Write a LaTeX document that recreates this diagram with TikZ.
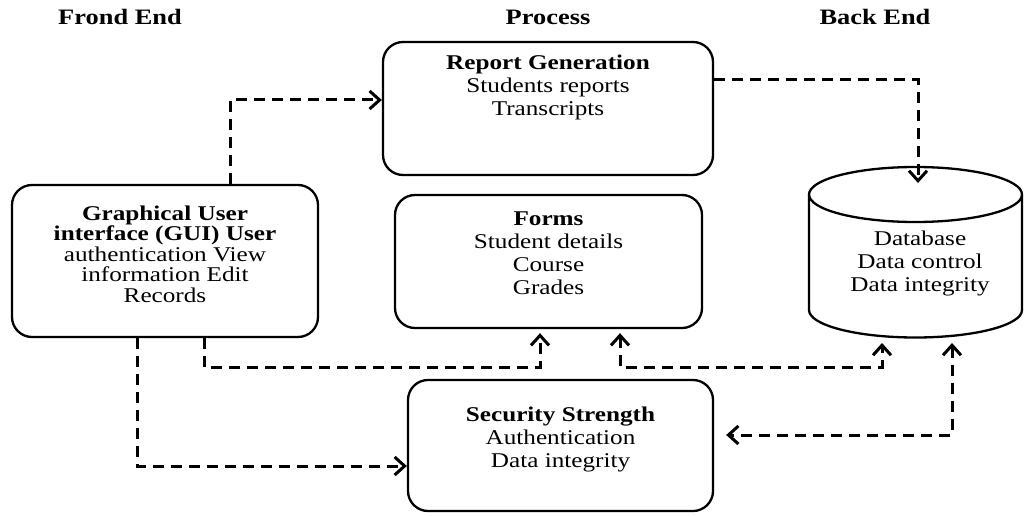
\documentclass[tikz,border=0pt]{standalone}
\usepackage{fontspec}
\setmainfont{Liberation Serif}[FakeStretch=1.2]
\usetikzlibrary{arrows.meta}
\begin{document}
\begin{tikzpicture}[x=1pt,y=-1pt,
  box/.style={draw, line width=2.3pt, rounded corners=20pt, inner sep=0pt},
  txt/.style={align=center, inner sep=0pt, font=\fontsize{21}{23}\selectfont},
  head/.style={font=\fontsize{22}{24}\selectfont\bfseries, inner sep=0pt},
  conn/.style={line width=3pt, dash pattern=on 11pt off 7pt, -{Straight Barb[length=10pt,width=18pt]}},
  conntwo/.style={line width=3pt, dash pattern=on 11pt off 7pt, {Straight Barb[length=10pt,width=18pt]}-{Straight Barb[length=10pt,width=18pt]}}
]
\useasboundingbox (0,0) rectangle (1032,516);

% headings
\node[head] (h1) at (120,17) {Frond End};
\node[head] (h2) at (548,17) {Process};
\node[head] (h3) at (875,17) {Back End};

% boxes
\node[box, minimum width=330pt, minimum height=133pt] (rep) at (548,108.5) {};
\node[txt] (repT) at ([yshift=21.5pt]rep.center) {\textbf{Report Generation}\\Students reports\\Transcripts};

\node[box, minimum width=306pt, minimum height=152pt] (gui) at (165,261) {};
\node[txt, font=\fontsize{21}{20.5}\selectfont] (guiT) at ([yshift=7pt]gui.center) {\textbf{Graphical User}\\\textbf{interface (GUI) User}\\authentication View\\information Edit\\Records};

\node[box, minimum width=307pt, minimum height=133pt] (forms) at (548.5,261.5) {};
\node[txt] (formsT) at ([yshift=8pt]forms.center) {\textbf{Forms}\\Student details\\Course\\Grades};

\node[box, minimum width=305pt, minimum height=131pt] (sec) at (560.5,445.5) {};
\node[txt] (secT) at ([yshift=6.5pt]sec.center) {\textbf{Security Strength}\\Authentication\\Data integrity};

% database cylinder
\draw[line width=2.3pt] (809,194.5) -- (809,310) arc[start angle=180,end angle=0,x radius=106.5,y radius=27.5] -- (1022,194.5);
\draw[line width=2.3pt] (915.5,194.5) ellipse[x radius=106.5, y radius=27.5];
\node[txt] (dbT) at (920,263) {Database\\Data control\\Data integrity};
\coordinate (dbTop) at (918,183);
\coordinate (dbA) at (882,343);
\coordinate (dbB) at (952,343);

% connectors
\draw[conn] ([xshift=65pt]gui.north) |- ([yshift=8.5pt]rep.west);
\draw[conn] ([yshift=28.5pt]rep.east) -| (dbTop);

\coordinate (g1) at ([xshift=39pt]gui.south);
\coordinate (f1) at ([xshift=-8.5pt,yshift=-4pt]forms.south);
\draw[conn] (g1) -- ++(0,29) -| (f1);

\coordinate (f2) at ([xshift=71.5pt,yshift=-4pt]forms.south);
\draw[conntwo] (f2) -- ++(0,34) -| (dbA);

\draw[conntwo] (dbB) |- ([xshift=12pt,yshift=10.5pt]sec.east);

\draw[conn] ([xshift=-28pt]gui.south) |- ([yshift=-20.5pt]sec.west);
\end{tikzpicture}
\end{document}
